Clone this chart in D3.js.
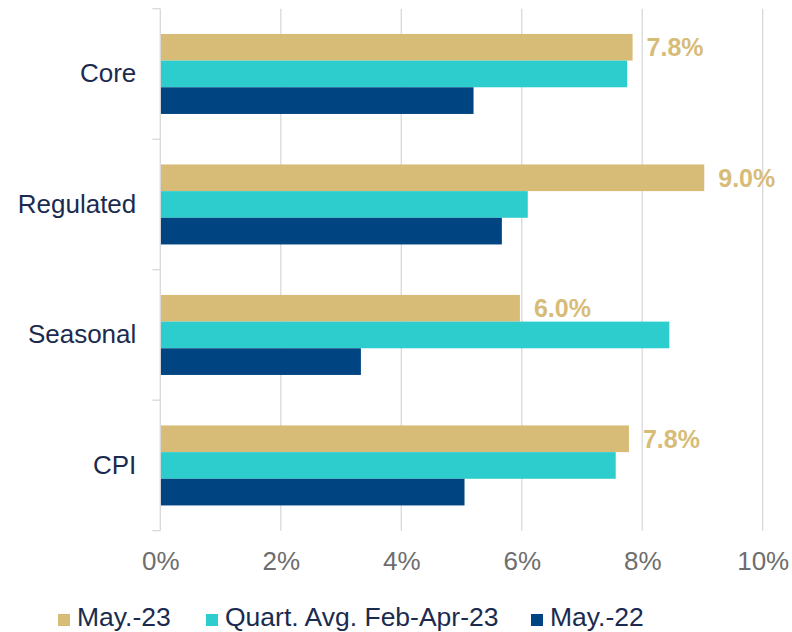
<!DOCTYPE html>
<meta charset="utf-8">
<script src="https://d3js.org/d3.v7.min.js"></script>
<style>
  body { margin: 0; background: #fff; }
  text { font-family: "Liberation Sans", Arial, sans-serif; }
</style>
<div id="my_dataviz"></div>
<script>
// categories top to bottom
var categories = ["Core", "Regulated", "Seasonal", "CPI"];
var series = ["May.-23", "Quart. Avg. Feb-Apr-23", "May.-22"];
var colors = ["#D7BC78", "#2ECDCD", "#004481"];

// values in % per series, same order as categories
var may23 = [7.84, 9.03, 5.97, 7.78];
var quartAvg = [7.75, 6.1, 8.45, 7.56];
var may22 = [5.2, 5.67, 3.33, 5.05];
var labels23 = ["7.8%", "9.0%", "6.0%", "7.8%"];

var xTicks = [0, 2, 4, 6, 8, 10];

var values = [may23, quartAvg, may22];

var W = 792, H = 632;
var margin = {top: 8.7, left: 160.3, right: 29.3, bottom: 101.3};

var svg = d3.select("#my_dataviz")
  .append("svg")
    .attr("width", W)
    .attr("height", H);

var x = d3.scaleLinear()
  .domain([0, 10])
  .range([margin.left, W - margin.right]);

var y = d3.scaleBand()
  .domain(categories)
  .range([margin.top, H - margin.bottom])
  .paddingInner(0)
  .paddingOuter(0);

var ySub = d3.scaleBand()
  .domain(series)
  .range([0, y.bandwidth()])
  .paddingInner(0)
  .paddingOuter(0.947);

var grid = "#D9D9D9";

// vertical gridlines
svg.append("g")
  .selectAll("line")
  .data(xTicks.slice(1))
  .enter()
  .append("line")
    .attr("x1", function(d) { return x(d); })
    .attr("x2", function(d) { return x(d); })
    .attr("y1", y.range()[0])
    .attr("y2", y.range()[1])
    .style("stroke", grid)
    .style("stroke-width", 1.3);

// x axis labels
var xAxis = svg.append("g")
  .attr("transform", "translate(0," + (y.range()[1]) + ")")
  .call(d3.axisBottom(x).tickValues(xTicks).tickFormat(function(d) { return d + "%"; }).tickSize(0).tickPadding(21));
xAxis.select(".domain").remove();
xAxis.selectAll("text")
  .style("font-size", "26px")
  .style("fill", "#6E6E6E")
  .style("font-family", "'Liberation Sans', Arial, sans-serif");

// bars
categories.forEach(function(cat, ci) {
  series.forEach(function(s, si) {
    svg.append("rect")
      .attr("x", x(0))
      .attr("y", y(cat) + ySub(s))
      .attr("width", x(values[si][ci]) - x(0))
      .attr("height", ySub.bandwidth())
      .style("fill", colors[si]);
  });
});

// y axis line and ticks at band boundaries
var bounds = categories.map(function(c) { return y(c); }).concat([y.range()[1]]);
svg.append("line")
  .attr("x1", x(0)).attr("x2", x(0))
  .attr("y1", y.range()[0]).attr("y2", y.range()[1])
  .style("stroke", grid).style("stroke-width", 1.3);
svg.append("g")
  .selectAll("line")
  .data(bounds)
  .enter()
  .append("line")
    .attr("x1", x(0) - 8).attr("x2", x(0))
    .attr("y1", function(d) { return d; })
    .attr("y2", function(d) { return d; })
    .style("stroke", grid).style("stroke-width", 1.3);

// category labels
var yAxis = svg.append("g")
  .attr("transform", "translate(" + x(0) + ",0)")
  .call(d3.axisLeft(y).tickSize(0).tickPadding(24));
yAxis.select(".domain").remove();
yAxis.selectAll("text")
  .style("font-size", "26px")
  .style("fill", "#1B2B4F")
  .style("font-family", "'Liberation Sans', Arial, sans-serif");

// data labels on May.-23 bars
svg.append("g")
  .selectAll("text")
  .data(categories)
  .enter()
  .append("text")
    .attr("x", function(d, i) { return x(may23[i]) + 14; })
    .attr("y", function(d) { return y(d) + ySub(series[0]) + ySub.bandwidth() / 2; })
    .attr("dy", "0.36em")
    .text(function(d, i) { return labels23[i]; })
    .style("font-size", "25px")
    .style("font-weight", "bold")
    .style("fill", "#D7BC78");

// legend
var legendX = [58, 206, 531];
var legend = svg.append("g");
series.forEach(function(s, i) {
  legend.append("rect")
    .attr("x", legendX[i]).attr("y", 614)
    .attr("width", 12).attr("height", 12)
    .style("fill", colors[i]);
  legend.append("text")
    .attr("x", legendX[i] + 19).attr("y", 626)
    .text(s)
    .style("font-size", "26.5px")
    .style("fill", "#1B2B4F");
});
</script>
